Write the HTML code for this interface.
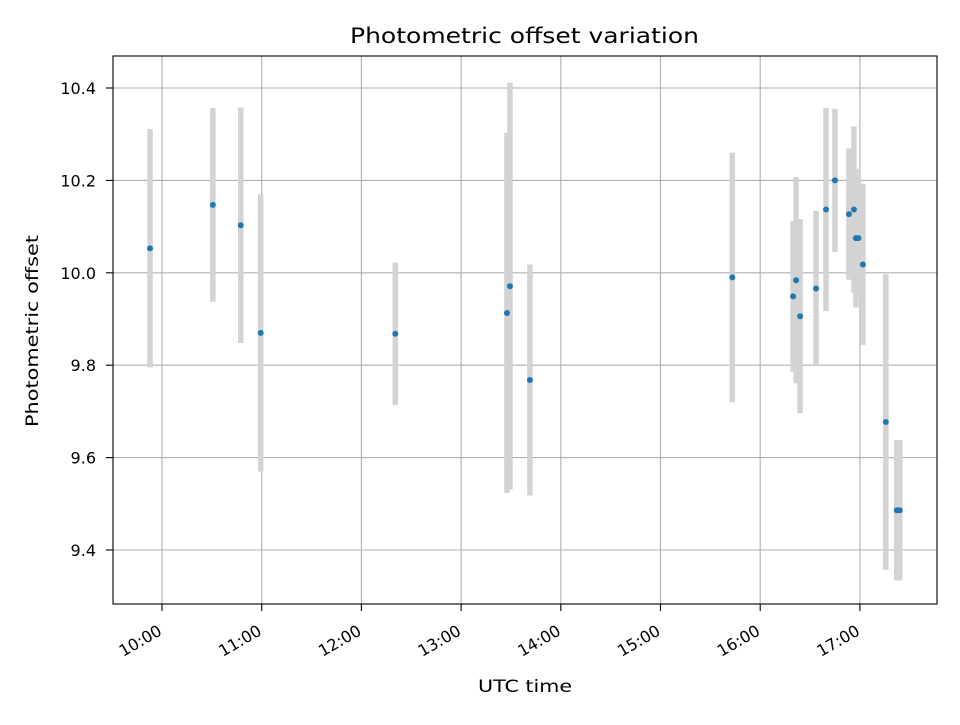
<!DOCTYPE html>
<html><head><meta charset="utf-8"><style>
body{margin:0;background:#fff;}
svg text{font-family:"DejaVu Sans","Liberation Sans",sans-serif;fill:#000;}
</style></head><body>
<svg id="chart" width="960" height="720" xmlns="http://www.w3.org/2000/svg"></svg>
<script>
const times = [9.88,10.51,10.79,10.99,12.34,13.46,13.49,13.69,15.72,16.33,16.36,16.40,16.56,16.66,16.75,16.89,16.94,16.96,16.985,17.03,17.26,17.37,17.40];
const offsets = [10.053,10.147,10.103,9.870,9.868,9.913,9.971,9.768,9.990,9.949,9.984,9.906,9.966,10.137,10.200,10.127,10.137,10.075,10.075,10.018,9.677,9.486,9.486];
const errors = [0.258,0.21,0.255,0.30,0.154,0.39,0.44,0.25,0.27,0.163,0.223,0.21,0.168,0.22,0.155,0.142,0.18,0.15,0.133,0.174,0.32,0.152,0.152];
const xTickHours = [10,11,12,13,14,15,16,17];
const xTickLabels = ["10:00","11:00","12:00","13:00","14:00","15:00","16:00","17:00"];
const yTicks = [9.4,9.6,9.8,10.0,10.2,10.4];
const yTickLabels = ["9.4","9.6","9.8","10.0","10.2","10.4"];

const L=113,R=937,T=56,B=604;
const xs = h => 162 + (h-10)*99.7;
const ys = v => 272.8 - (v-10)*462;
const svg=document.getElementById('chart');
const NS='http://www.w3.org/2000/svg';
function mk(tag,attrs,parent){const e=document.createElementNS(NS,tag);for(const k in attrs)e.setAttribute(k,attrs[k]);(parent||svg).appendChild(e);return e;}

xTickHours.forEach((h,i)=>{
  const x=xs(h);
  const g=mk('line',{x1:x,x2:x,y1:T,y2:B,stroke:'#b0b0b0','stroke-width':1.1});
  
  
  mk('line',{x1:x,x2:x,y1:B,y2:B+7,stroke:'#000','stroke-width':1.1});
  const tx=x+1, ty=B+30;
  const t=mk('text',{x:tx,y:ty,'font-size':16,'text-anchor':'end',transform:`rotate(-30 ${tx} ${ty})`});
  
  
  t.textContent=xTickLabels[i];
});
yTicks.forEach((v,i)=>{
  const y=ys(v);
  const g=mk('line',{x1:L,x2:R,y1:y,y2:y,stroke:'#b0b0b0','stroke-width':1.1});
  
  
  mk('line',{x1:L-7,x2:L,y1:y,y2:y,stroke:'#000','stroke-width':1.1});
  const t=mk('text',{x:L-17,y:y+6,'font-size':16,'text-anchor':'end'});
  
  
  t.textContent=yTickLabels[i];
});
times.forEach((h,i)=>{
  const b=mk('line',{x1:xs(h),x2:xs(h),y1:ys(offsets[i]+errors[i]),y2:ys(offsets[i]-errors[i]),stroke:'#d3d3d3','stroke-width':5.5});
  
  
});
times.forEach((h,i)=>{
  const c=mk('circle',{cx:xs(h),cy:ys(offsets[i]),r:3,fill:'#1f77b4'});
  
  
});
const fr=mk('rect',{x:L,y:T,width:R-L,height:B-T,fill:'none',stroke:'#000','stroke-width':1.1});


const title=mk('text',{x:350,y:43,'font-size':21,textLength:349,lengthAdjust:'spacingAndGlyphs'});


title.textContent='Photometric offset variation';
const xl=mk('text',{x:478,y:692,'font-size':17,textLength:94,lengthAdjust:'spacingAndGlyphs'});


xl.textContent='UTC time';
const yl=mk('text',{x:38,y:427,'font-size':17,textLength:192,lengthAdjust:'spacingAndGlyphs',transform:'rotate(-90 38 427)'});


yl.textContent='Photometric offset';
</script>
</body></html>
